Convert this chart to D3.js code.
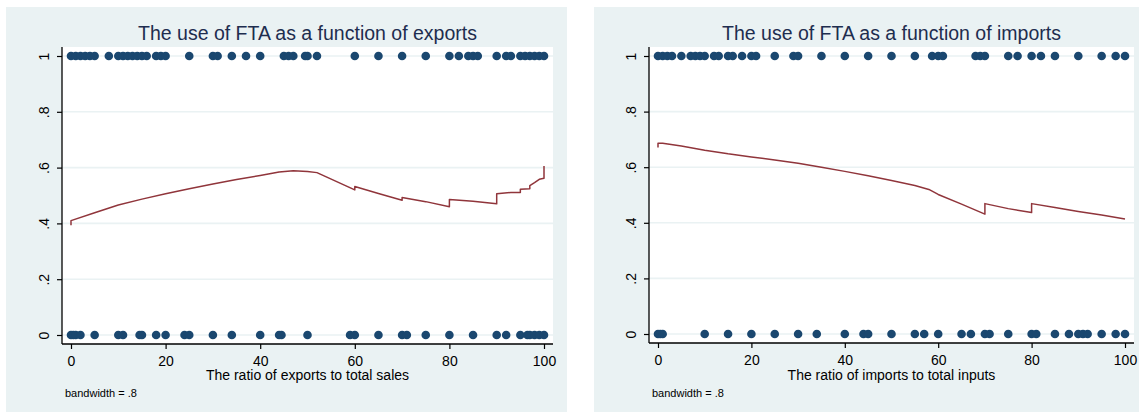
<!DOCTYPE html>
<html>
<head>
<meta charset="utf-8">
<script src="https://cdn.jsdelivr.net/npm/d3@7"></script>
<style>
  body { margin: 0; background: #ffffff; }
  svg { display: block; font-family: "Liberation Sans", Arial, Helvetica, sans-serif; }
</style>
</head>
<body>
<svg id="chart" width="1142" height="412"></svg>
<script>
// Axis ticks shared by both panels
const xTicks = [0, 20, 40, 60, 80, 100];
const yTicks = [0, 0.2, 0.4, 0.6, 0.8, 1];
const yTickLabels = ["0", ".2", ".4", ".6", ".8", "1"];

// Firms by export share (percent of total sales): FTA used (1) / not used (0)
const exportsUsed = [0, 1, 2, 3, 4, 5, 8, 10, 11, 12, 13, 14, 15, 16, 18, 19, 20, 25, 30, 31,
  34, 37, 40, 45, 46, 47, 49.5, 50, 52, 60, 65, 70, 75, 80, 82, 84, 85, 86, 90, 92, 93,
  95, 96, 97, 98, 99, 100];
const exportsNotUsed = [0, 0.5, 1, 2, 5, 10, 11, 14.5, 15, 18, 20, 24, 25, 30, 34, 40, 44, 44.5,
  50, 59, 60, 65, 70, 71, 75, 80, 85, 90, 92, 95, 96.5, 97, 98, 99, 100];
// Smoothed probability of FTA use against export share
const exportsFitX = [0, 0, 5, 10, 15, 20, 25, 30, 35, 40, 44, 47, 50, 52, 60, 60, 65, 70, 70,
  75, 80, 80, 85, 90, 90, 93, 95, 95, 97, 97, 98, 99, 100, 100];
const exportsFitY = [0.393, 0.410, 0.438, 0.466, 0.487, 0.506, 0.524, 0.541, 0.557, 0.572,
  0.584, 0.589, 0.586, 0.582, 0.520, 0.532, 0.507, 0.483, 0.493, 0.478, 0.460, 0.486,
  0.479, 0.470, 0.506, 0.511, 0.511, 0.522, 0.524, 0.535, 0.546, 0.558, 0.562, 0.606];

// Firms by import share (percent of total inputs): FTA used (1) / not used (0)
const importsUsed = [0, 1, 2, 3, 5, 7, 8, 9, 10, 12, 13, 15, 16, 18, 20, 21, 25, 29, 30, 35,
  40, 45, 50, 55, 58.7, 60, 61, 68, 69, 70, 75, 77, 80, 82, 85, 90, 95, 98, 100];
const importsNotUsed = [0, 0.5, 1, 10, 15, 20, 25, 30, 34, 40, 44, 45, 50, 55, 57, 60, 65, 67,
  70, 71, 75, 80, 81, 85, 88, 90, 91, 92, 95, 98, 100];
// Smoothed probability of FTA use against import share
const importsFitX = [0, 0, 1, 5, 10, 15, 20, 25, 30, 35, 40, 45, 50, 55, 58, 60, 65, 70, 70,
  75, 80, 80, 85, 90, 95, 100];
const importsFitY = [0.671, 0.686, 0.686, 0.676, 0.661, 0.648, 0.637, 0.626, 0.614, 0.600,
  0.585, 0.569, 0.552, 0.534, 0.520, 0.502, 0.467, 0.431, 0.469, 0.451, 0.437, 0.469,
  0.455, 0.441, 0.428, 0.414];

const panels = [
  {
    title: "The use of FTA as a function of exports",
    xTitle: "The ratio of exports to total sales",
    note: "bandwidth = .8",
    used: exportsUsed, notUsed: exportsNotUsed, fitX: exportsFitX, fitY: exportsFitY,
    outer: { x0: 6, y0: 7, x1: 567, y1: 412 },
    plot: { x0: 62, y0: 47, x1: 553, y1: 344 }
  },
  {
    title: "The use of FTA as a function of imports",
    xTitle: "The ratio of imports to total inputs",
    note: "bandwidth = .8",
    used: importsUsed, notUsed: importsNotUsed, fitX: importsFitX, fitY: importsFitY,
    outer: { x0: 594, y0: 7, x1: 1139, y1: 412 },
    plot: { x0: 649, y0: 47, x1: 1134, y1: 343 }
  }
];

const svg = d3.select("#chart");
const bgColor = "#eaf2f3";
const markerColor = "#1a476f";
const lineColor = "#90353b";
const titleColor = "#1e2d4f";
const pad = 9;

panels.forEach(p => {
  const g = svg.append("g");
  const o = p.outer, r = p.plot;

  g.append("rect")
    .attr("x", o.x0).attr("y", o.y0)
    .attr("width", o.x1 - o.x0).attr("height", o.y1 - o.y0)
    .attr("fill", bgColor);
  g.append("rect")
    .attr("x", r.x0).attr("y", r.y0)
    .attr("width", r.x1 - r.x0).attr("height", r.y1 - r.y0)
    .attr("fill", "#ffffff");

  const x = d3.scaleLinear().domain([0, 100]).range([r.x0 + pad, r.x1 - pad]);
  const y = d3.scaleLinear().domain([0, 1]).range([r.y1 - pad, r.y0 + pad]);

  // horizontal grid
  g.append("g").selectAll("line").data(yTicks).join("line")
    .attr("x1", r.x0).attr("x2", r.x1)
    .attr("y1", d => y(d)).attr("y2", d => y(d))
    .attr("stroke", bgColor).attr("stroke-width", 1.6);

  // y axis
  const yAxis = g.append("g")
    .attr("transform", `translate(${r.x0},0)`)
    .call(d3.axisLeft(y).tickValues(yTicks).tickSize(5)
      .tickFormat((d, i) => yTickLabels[i]));
  yAxis.select(".domain").remove();
  yAxis.selectAll(".tick line").attr("stroke", "#000").attr("stroke-width", 1.2);
  yAxis.selectAll(".tick text")
    .attr("transform", "rotate(-90)")
    .attr("x", 0).attr("y", -13).attr("dy", 0)
    .attr("text-anchor", "middle")
    .attr("font-size", 14).attr("fill", "#000");

  // x axis
  const xAxis = g.append("g")
    .attr("transform", `translate(0,${r.y1})`)
    .call(d3.axisBottom(x).tickValues(xTicks).tickSize(5).tickPadding(7));
  xAxis.select(".domain").remove();
  xAxis.selectAll(".tick line").attr("stroke", "#000").attr("stroke-width", 1.2);
  xAxis.selectAll(".tick text").attr("font-size", 14).attr("fill", "#000");

  // axis lines along the plot region edges
  g.append("line")
    .attr("x1", r.x0).attr("x2", r.x0).attr("y1", r.y0).attr("y2", r.y1)
    .attr("stroke", "#000").attr("stroke-width", 1.3);
  g.append("line")
    .attr("x1", r.x0).attr("x2", r.x1).attr("y1", r.y1).attr("y2", r.y1)
    .attr("stroke", "#000").attr("stroke-width", 1.3);

  // observations
  const dots = g.append("g").attr("fill", markerColor);
  dots.selectAll("circle.used").data(p.used).join("circle")
    .attr("class", "used")
    .attr("cx", d => x(d)).attr("cy", y(1)).attr("r", 4.3);
  dots.selectAll("circle.notused").data(p.notUsed).join("circle")
    .attr("class", "notused")
    .attr("cx", d => x(d)).attr("cy", y(0)).attr("r", 4.3);

  // smoothed fit
  const fit = p.fitX.map((v, i) => [v, p.fitY[i]]);
  g.append("path")
    .datum(fit)
    .attr("fill", "none")
    .attr("stroke", lineColor)
    .attr("stroke-width", 1.5)
    .attr("stroke-linejoin", "round")
    .attr("d", d3.line().x(d => x(d[0])).y(d => y(d[1])));

  const cx = (r.x0 + r.x1) / 2;
  g.append("text")
    .attr("x", cx).attr("y", 40)
    .attr("text-anchor", "middle")
    .attr("font-size", 19.5).attr("fill", titleColor)
    .text(p.title);
  g.append("text")
    .attr("x", cx).attr("y", 380)
    .attr("text-anchor", "middle")
    .attr("font-size", 14).attr("fill", "#000")
    .text(p.xTitle);
  g.append("text")
    .attr("x", r.x0 + 3).attr("y", 397)
    .attr("font-size", 11).attr("fill", "#000")
    .text(p.note);
});
</script>
</body>
</html>
